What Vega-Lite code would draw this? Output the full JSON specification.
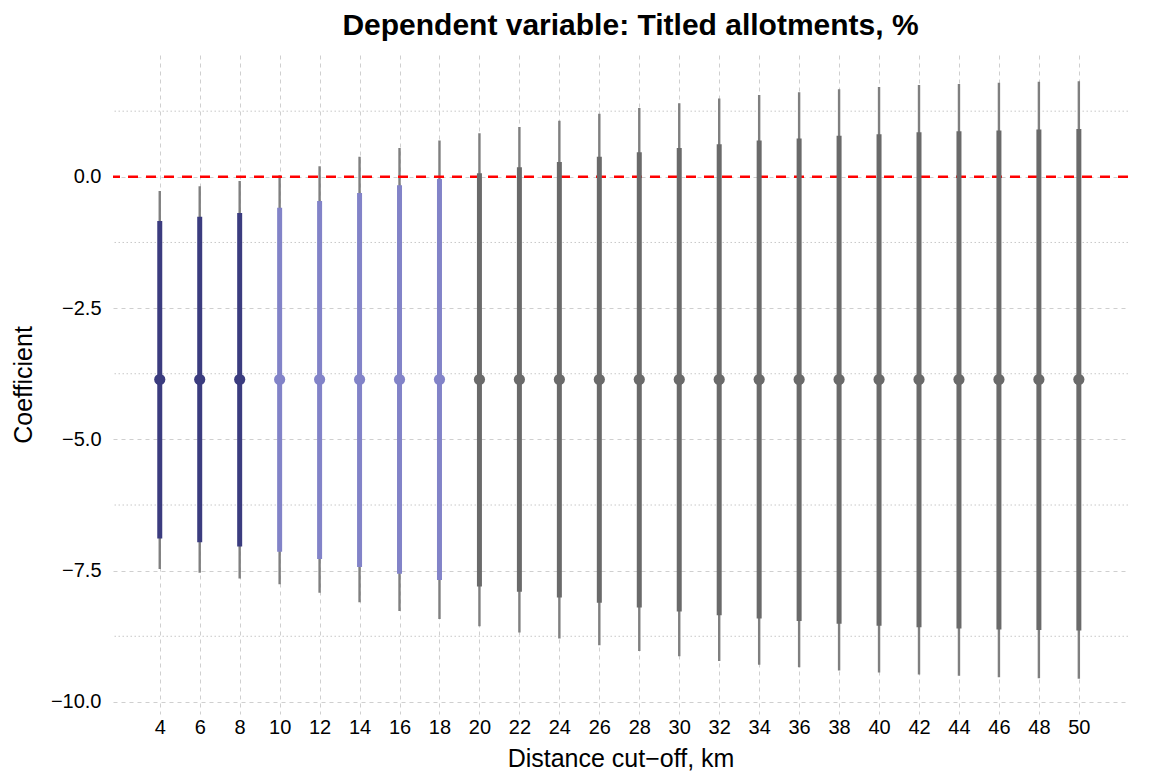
{
  "$schema": "https://vega.github.io/schema/vega-lite/v6.json",
  "autosize": "none",
  "width": 1015,
  "height": 659,
  "padding": {"left": 113, "top": 55, "right": 26, "bottom": 62},
  "background": "white",
  "config": {
    "font": "Liberation Sans",
    "view": {"stroke": null},
    "axis": {"domain": false, "ticks": false, "labelColor": "#000000", "titleColor": "#000000", "labelFont": "Liberation Sans", "titleFont": "Liberation Sans", "titleFontWeight": "normal"}
  },
  "title": {
    "text": "Dependent variable: Titled allotments, %",
    "fontSize": 30,
    "fontWeight": "bold",
    "font": "Liberation Sans",
    "color": "#000000",
    "anchor": "middle",
    "baseline": "alphabetic",
    "offset": 20,
    "dy": 30,
    "dx": 10
  },
  "datasets": {
    "estimates": [
      {"cutoff": 4, "est": -3.86, "lo95": -7.47, "lo90": -6.89, "hi90": -0.84, "hi95": -0.27, "band": "4-8"},
      {"cutoff": 6, "est": -3.86, "lo95": -7.54, "lo90": -6.96, "hi90": -0.76, "hi95": -0.18, "band": "4-8"},
      {"cutoff": 8, "est": -3.86, "lo95": -7.65, "lo90": -7.04, "hi90": -0.69, "hi95": -0.08, "band": "4-8"},
      {"cutoff": 10, "est": -3.86, "lo95": -7.76, "lo90": -7.14, "hi90": -0.59, "hi95": 0.03, "band": "10-18"},
      {"cutoff": 12, "est": -3.86, "lo95": -7.92, "lo90": -7.28, "hi90": -0.46, "hi95": 0.2, "band": "10-18"},
      {"cutoff": 14, "est": -3.86, "lo95": -8.1, "lo90": -7.43, "hi90": -0.31, "hi95": 0.38, "band": "10-18"},
      {"cutoff": 16, "est": -3.86, "lo95": -8.27, "lo90": -7.56, "hi90": -0.16, "hi95": 0.55, "band": "10-18"},
      {"cutoff": 18, "est": -3.86, "lo95": -8.42, "lo90": -7.68, "hi90": -0.04, "hi95": 0.69, "band": "10-18"},
      {"cutoff": 20, "est": -3.86, "lo95": -8.56, "lo90": -7.8, "hi90": 0.07, "hi95": 0.83, "band": "20-50"},
      {"cutoff": 22, "est": -3.86, "lo95": -8.68, "lo90": -7.9, "hi90": 0.18, "hi95": 0.95, "band": "20-50"},
      {"cutoff": 24, "est": -3.86, "lo95": -8.79, "lo90": -8.01, "hi90": 0.28, "hi95": 1.07, "band": "20-50"},
      {"cutoff": 26, "est": -3.86, "lo95": -8.92, "lo90": -8.11, "hi90": 0.38, "hi95": 1.2, "band": "20-50"},
      {"cutoff": 28, "est": -3.86, "lo95": -9.03, "lo90": -8.2, "hi90": 0.47, "hi95": 1.31, "band": "20-50"},
      {"cutoff": 30, "est": -3.86, "lo95": -9.13, "lo90": -8.28, "hi90": 0.55, "hi95": 1.4, "band": "20-50"},
      {"cutoff": 32, "est": -3.86, "lo95": -9.22, "lo90": -8.35, "hi90": 0.62, "hi95": 1.49, "band": "20-50"},
      {"cutoff": 34, "est": -3.86, "lo95": -9.29, "lo90": -8.41, "hi90": 0.69, "hi95": 1.56, "band": "20-50"},
      {"cutoff": 36, "est": -3.86, "lo95": -9.34, "lo90": -8.46, "hi90": 0.73, "hi95": 1.61, "band": "20-50"},
      {"cutoff": 38, "est": -3.86, "lo95": -9.4, "lo90": -8.51, "hi90": 0.78, "hi95": 1.67, "band": "20-50"},
      {"cutoff": 40, "est": -3.86, "lo95": -9.44, "lo90": -8.55, "hi90": 0.81, "hi95": 1.71, "band": "20-50"},
      {"cutoff": 42, "est": -3.86, "lo95": -9.48, "lo90": -8.58, "hi90": 0.85, "hi95": 1.75, "band": "20-50"},
      {"cutoff": 44, "est": -3.86, "lo95": -9.5, "lo90": -8.6, "hi90": 0.87, "hi95": 1.77, "band": "20-50"},
      {"cutoff": 46, "est": -3.86, "lo95": -9.53, "lo90": -8.62, "hi90": 0.88, "hi95": 1.79, "band": "20-50"},
      {"cutoff": 48, "est": -3.86, "lo95": -9.55, "lo90": -8.63, "hi90": 0.9, "hi95": 1.81, "band": "20-50"},
      {"cutoff": 50, "est": -3.86, "lo95": -9.56, "lo90": -8.64, "hi90": 0.91, "hi95": 1.82, "band": "20-50"}
    ],
    "minorGrid": [
      {"level": -8.75}, {"level": -6.25}, {"level": -3.75}, {"level": -1.25}, {"level": 1.25}
    ],
    "zeroLine": [{"level": 0}]
  },
  "layer": [
    {
      "data": {"name": "minorGrid"},
      "mark": {"type": "rule", "color": "#c8c8c8", "strokeWidth": 1, "strokeDash": [1.5, 2.5]},
      "encoding": {
        "y": {
          "field": "level", "type": "quantitative",
          "scale": {"domain": [-10.23, 2.32], "nice": false, "zero": false},
          "axis": {
            "title": "Coefficient",
            "values": [-10, -7.5, -5, -2.5, 0],
            "format": ".1f",
            "labelFontSize": 20,
            "titleFontSize": 25,
            "labelPadding": 12,
            "titlePadding": 14,
            "grid": true,
            "gridColor": "#cfcfcf",
            "gridWidth": 1,
            "gridDash": [4, 4]
          }
        }
      }
    },
    {
      "data": {"name": "estimates"},
      "mark": {"type": "rule", "color": "#7f7f7f", "strokeWidth": 2.4},
      "encoding": {
        "x": {
          "field": "cutoff", "type": "quantitative",
          "scale": {"domain": [1.66, 52.46], "nice": false, "zero": false},
          "axis": {
            "title": "Distance cut−off, km",
            "values": [4, 6, 8, 10, 12, 14, 16, 18, 20, 22, 24, 26, 28, 30, 32, 34, 36, 38, 40, 42, 44, 46, 48, 50],
            "labelFontSize": 20,
            "titleFontSize": 25,
            "labelPadding": 3,
            "titlePadding": 9,
            "grid": true,
            "gridColor": "#cfcfcf",
            "gridWidth": 1,
            "gridDash": [4, 4]
          }
        },
        "y": {"field": "lo95", "type": "quantitative"},
        "y2": {"field": "hi95"}
      }
    },
    {
      "data": {"name": "zeroLine"},
      "mark": {"type": "rule", "color": "#ff0000", "strokeWidth": 2.4, "strokeDash": [10, 8]},
      "encoding": {
        "y": {"field": "level", "type": "quantitative"}
      }
    },
    {
      "data": {"name": "estimates"},
      "mark": {"type": "rule", "strokeWidth": 5},
      "encoding": {
        "x": {"field": "cutoff", "type": "quantitative"},
        "y": {"field": "lo90", "type": "quantitative"},
        "y2": {"field": "hi90"},
        "color": {
          "field": "band", "type": "nominal",
          "scale": {"domain": ["4-8", "10-18", "20-50"], "range": ["#3b3c7f", "#8283c8", "#6a6a6a"]},
          "legend": null
        }
      }
    },
    {
      "data": {"name": "estimates"},
      "mark": {"type": "point", "filled": true, "opacity": 1, "size": 125},
      "encoding": {
        "x": {"field": "cutoff", "type": "quantitative"},
        "y": {"field": "est", "type": "quantitative"},
        "color": {"field": "band", "type": "nominal", "legend": null}
      }
    }
  ]
}
